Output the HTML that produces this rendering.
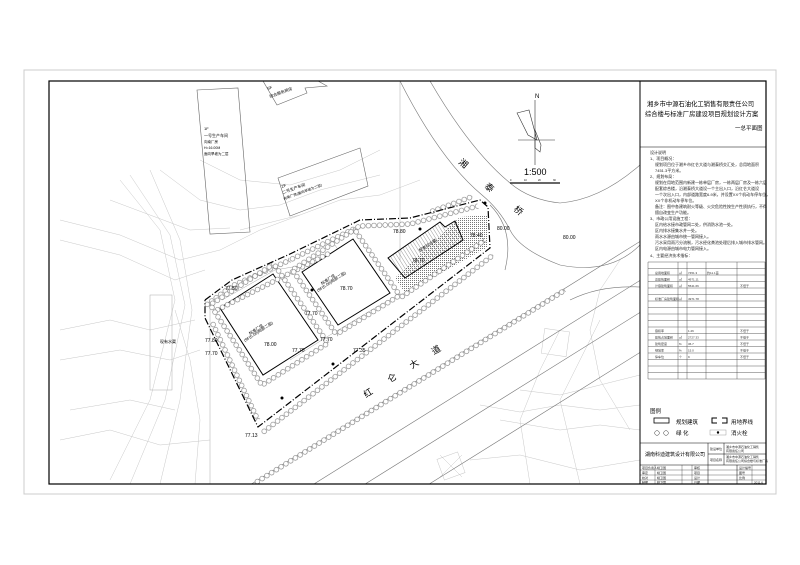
<!DOCTYPE html>
<html><head><meta charset="utf-8">
<style>
html,body{margin:0;padding:0;background:#fff;overflow:hidden;width:800px;height:565px;}
svg{display:block;font-family:"Liberation Sans","Noto Sans CJK SC",sans-serif;}
</style></head>
<body>
<svg width="800" height="565" viewBox="0 0 800 565" xmlns="http://www.w3.org/2000/svg">
<defs>
<clipPath id="c"><rect x="49" y="81" width="591" height="403"/></clipPath>
<pattern id="hat" width="3" height="3" patternUnits="userSpaceOnUse" patternTransform="rotate(-32)">
<line x1="0" y1="0" x2="0" y2="3" stroke="#555" stroke-width="0.6"/></pattern>
<pattern id="dot" width="2" height="2" patternUnits="userSpaceOnUse">
<rect x="0" y="0" width="1" height="1" fill="#777"/></pattern>
<pattern id="tr" x="0" y="-3" width="5.6" height="6" patternUnits="userSpaceOnUse">
<circle cx="2.8" cy="3" r="2.4" fill="#fff" stroke="#666" stroke-width="0.5"/></pattern>
</defs>
<rect x="24" y="70" width="752" height="424" fill="none" stroke="#ccc" stroke-width="1"/>
<g clip-path="url(#c)" fill="none" stroke="#999" stroke-width="0.5">
<g stroke="#c8c8c8">
<polyline points="120,180 160,230 175,300 150,400 110,480"/>
<polyline points="130,175 170,235 185,305 165,400 130,484"/>
<polyline points="150,170 180,240 192,310 180,400 160,484"/>
<polyline points="60,220 120,235 180,260 220,250 260,230 300,215"/>
<polyline points="60,240 120,255 175,280 205,270"/>
<polyline points="60,330 110,320 150,330 195,320"/>
<polyline points="60,360 120,350 170,360 200,350"/>
<polyline points="70,410 130,400 175,410"/>
<polyline points="60,440 110,430 160,445 210,440"/>
<polyline points="160,170 200,200 240,210 280,205 320,190 380,175"/>
<polyline points="200,160 240,180 290,185 340,170 380,150"/>
<polyline points="240,230 300,215 340,200 380,195 420,180"/>
<polyline points="175,310 190,360 200,420 195,484"/>
<polyline points="560,330 540,370 520,420 530,484"/>
<polyline points="600,320 580,360 560,400 580,484"/>
<polyline points="520,390 560,395 600,385 640,375"/>
<polyline points="500,420 560,430 600,425 640,430"/>
<polyline points="470,460 520,455 580,470 640,460"/>
<polyline points="620,260 600,290 590,330 600,380 630,430"/>
<polyline points="480,405 520,412 560,405 600,410 640,405"/>
<polyline points="110,200 150,215 190,230 230,228"/>
<rect x="543" y="330" width="25" height="25" transform="rotate(8 555 342)"/>
<rect x="440" y="455" width="22" height="22" transform="rotate(-20 451 466)"/>
<line x1="440" y1="455" x2="462" y2="477"/><line x1="462" y1="455" x2="440" y2="477"/>
<rect x="150" y="295" width="22" height="95" stroke="#aaa"/>
</g>
<g stroke="#666" stroke-width="0.6">
<polygon points="197,90 238,88 250,232 210,234"/>
<polygon points="278,178 360,148 368,186 290,216"/>
<polygon points="263,81 277,105 307,93 305,88 327,86 318,81"/>
</g>
<g stroke="#777" stroke-width="0.6">
<line x1="0" y1="641" x2="700" y2="204"/>
<line x1="0" y1="680" x2="700" y2="243"/>
<line x1="0" y1="712" x2="700" y2="275"/>
<line x1="0" y1="752" x2="700" y2="315"/>
<path d="M400,81 Q440,160 482,195 Q500,210 510,230 Q520,250 560,265 Q610,275 640,245"/>
<path d="M430,81 Q470,150 510,183 Q530,200 560,203 Q600,200 640,165"/>
<path d="M570,300 Q600,285 640,287"/>
<path d="M490,205 Q515,230 505,270"/>
<line x1="210" y1="300" x2="210" y2="484" stroke="#bbb"/>
<line x1="400" y1="81" x2="400" y2="260" stroke="#bbb"/>
</g>
<g stroke="#aaa" stroke-width="0.5">
<polyline points="222,300 275,270 322,262"/>
<polyline points="290,360 330,335 380,305 420,285"/>
<line x1="335" y1="245" x2="370" y2="300"/>
</g>
<polygon points="460,217 487,215 488,247 405,293 395,278" fill="url(#dot)" stroke="none"/>
<g stroke="#000" stroke-width="1" fill="#fff">
<polygon points="220,308 273,274 318,340 263,375"/>
<polygon points="302,272 353,239 390,293 338,325"/>
<polygon points="388,258 440,222 445,227 455,221 463,240 405,278" fill="url(#hat)"/>
</g>
<g stroke="none" fill="url(#tr)">
<g transform="translate(205,306) rotate(-36.5)"><rect x="0" y="-3" width="33.6" height="6"/></g>
<g transform="translate(232,286) rotate(-24.1)"><rect x="0" y="-3" width="63.6" height="6"/></g>
<g transform="translate(290,260) rotate(-25.9)"><rect x="0" y="-3" width="77.8" height="6"/></g>
<g transform="translate(360,226) rotate(-2.3)"><rect x="0" y="-3" width="50" height="6"/></g>
<g transform="translate(410,224) rotate(-14.8)"><rect x="0" y="-3" width="70.3" height="6"/></g>
<g transform="translate(215,311) rotate(-26.8)"><rect x="0" y="-3" width="128.8" height="6"/></g>
<g transform="translate(262,433) rotate(-37.6)"><rect x="0" y="-3" width="291.6" height="6"/></g>
<g transform="translate(255,483) rotate(-31.9)"><rect x="0" y="-3" width="365" height="6"/></g>
<g transform="translate(212,322) rotate(64.9)"><rect x="0" y="-3" width="108.3" height="6"/></g>
<g transform="translate(400,298) rotate(-34.3)"><rect x="0" y="-3" width="102.9" height="6"/></g>
<g transform="translate(430,212) rotate(-20)"><rect x="0" y="-3" width="45" height="6"/></g>
<g transform="translate(210.3,304.8) rotate(-32.7)"><rect x="0" y="-3" width="75.6" height="6"/></g>
<g transform="translate(273.9,264) rotate(55.7)"><rect x="0" y="-3" width="95.9" height="6"/></g>
<g transform="translate(327.9,343.2) rotate(147.5)"><rect x="0" y="-3" width="78.2" height="6"/></g>
<g transform="translate(261.9,385.2) rotate(-122.7)"><rect x="0" y="-3" width="95.5" height="6"/></g>
<g transform="translate(292.4,270) rotate(-33.1)"><rect x="0" y="-3" width="74.2" height="6"/></g>
<g transform="translate(354.6,229.5) rotate(55.6)"><rect x="0" y="-3" width="79.9" height="6"/></g>
<g transform="translate(399.7,295.4) rotate(148.4)"><rect x="0" y="-3" width="74.5" height="6"/></g>
<g transform="translate(336.2,334.4) rotate(-124.2)"><rect x="0" y="-3" width="77.9" height="6"/></g>
</g>
<polyline points="205,300 232,280 290,254 360,220 410,218 480,200 488,207 490,248 258,427 205,318 205,300" stroke="#000" stroke-width="1.2" stroke-dasharray="7,2,1,2"/>
<g fill="#000" stroke="none" font-size="4">
<text x="250" y="335" transform="rotate(-33 250 335)">标准厂房</text>
<text x="245" y="342" transform="rotate(-33 245 342)">(9F(6.08)局部二层)</text>
<text x="264" y="346" font-size="5">78.00</text>
<text x="322" y="285" transform="rotate(-33 322 285)">标准厂房</text>
<text x="318" y="292" transform="rotate(-33 318 292)">(9F(6.08)局部二层)</text>
<text x="340" y="290" font-size="5">78.70</text>
<text x="420" y="252" transform="rotate(-33 420 252)">配套综合楼</text>
<text x="412" y="262" font-size="5">78.70</text>
<text x="393" y="233" font-size="5">78.80</text>
<text x="225" y="290" font-size="5">77.50</text>
<text x="205" y="342" font-size="5">77.80</text>
<text x="205" y="355" font-size="5">77.70</text>
<text x="305" y="315" font-size="5">77.70</text>
<text x="320" y="341" font-size="5">77.70</text>
<text x="292" y="352" font-size="5">77.70</text>
<text x="353" y="352" font-size="5">77.35</text>
<text x="245" y="437" font-size="5">77.13</text>
<text x="497" y="230" font-size="5">80.00</text>
<text x="563" y="239" font-size="5">80.00</text>
<text x="470" y="237" font-size="5">78.40</text>
<text x="160" y="343">现有水渠</text>
<text x="204" y="130">1F</text>
<text x="204" y="137">一号生产车间</text>
<text x="204" y="143" font-size="3.5">向南厂房</text>
<text x="204" y="149" font-size="3.5">H=16.00M</text>
<text x="204" y="155" font-size="3.5">面向旱坡为二层</text>
<text x="282" y="188" transform="rotate(-20 282 188)">2F</text>
<text x="283" y="194" transform="rotate(-20 283 194)">二号生产车间</text>
<text x="284" y="200" font-size="3.5" transform="rotate(-20 284 200)">向南厂房(面向旱坡为二层)</text>
<text x="268" y="90" transform="rotate(-20 268 90)">5F</text>
<text x="270" y="98" transform="rotate(-20 270 98)">综合服务用房</text>
</g>
<circle cx="312" cy="290" r="1.5" fill="#000" stroke="none"/>
<circle cx="333" cy="364" r="1.5" fill="#000" stroke="none"/>
<circle cx="282" cy="398" r="1.5" fill="#000" stroke="none"/>
<circle cx="420" cy="229" r="1.5" fill="#000" stroke="none"/>
<circle cx="485" cy="203" r="1.5" fill="#000" stroke="none"/>
<g fill="#000" stroke="none" font-size="9">
<text x="366" y="398" transform="rotate(-33 366 398)">红</text>
<text x="390" y="383" transform="rotate(-33 390 383)">仑</text>
<text x="412" y="369" transform="rotate(-33 412 369)">大</text>
<text x="434" y="355" transform="rotate(-33 434 355)">道</text>
<text x="458" y="163" transform="rotate(40 458 163)">湘</text>
<text x="484" y="187" transform="rotate(40 484 187)">泰</text>
<text x="513" y="210" transform="rotate(40 513 210)">桥</text>
</g>
<g stroke="#333" stroke-width="0.6">
<line x1="535" y1="100" x2="535" y2="165"/>
<line x1="518" y1="140" x2="555" y2="140"/>
<polygon points="517,113 529,110 537,140 528,135" fill="none"/>
<polygon points="535,130 541,145 540,152 535,148" fill="none"/>
<line x1="510" y1="183" x2="560" y2="183" stroke-width="1.5"/>
</g>
<text x="535" y="98" font-size="6" fill="#000" stroke="none">N</text>
<text x="524" y="175" font-size="9" fill="#000" stroke="none">1:500</text>
<g font-size="2.5" fill="#000" stroke="none"><text x="510" y="181">0</text><text x="524" y="181">10</text><text x="538" y="181">20</text><text x="553" y="181">30</text></g>
</g>
<rect x="49" y="81" width="717" height="403" fill="none" stroke="#000" stroke-width="1.2"/>
<line x1="640" y1="81" x2="640" y2="484" stroke="#000" stroke-width="1"/>
<g fill="#000" font-size="6.3">
<text x="647" y="106">湘乡市中源石油化工销售有限责任公司</text>
<text x="645" y="116">综合楼与标准厂房建设项目规划设计方案</text>
<text x="735" y="130" font-size="5.5">一总平面图</text>
</g>
<line x1="640" y1="147" x2="766" y2="147" stroke="#000" stroke-width="0.6"/>
<g fill="#222" font-size="4">
<text x="650" y="154">设计说明</text>
<text x="650" y="160">1、项目概况：</text>
<text x="655" y="166">规划项目位于湘乡市红仑大道与湘泰桥交汇处，总用地面积</text>
<text x="655" y="172">7451.3平方米。</text>
<text x="650" y="178">2、规划布局：</text>
<text x="655" y="184">规划在用地范围内新建一栋单层厂房，一栋两层厂房及一栋六层</text>
<text x="655" y="190">配套综合楼，沿湘泰桥大道设一个主出入口，沿红仑大道设</text>
<text x="655" y="196">一个次出入口，内部道路宽度6-9米，并设置XX个机动车停车位，</text>
<text x="655" y="202">XX个非机动车停车位。</text>
<text x="655" y="208">备注：图中各建筑耐火等级、火灾危险性按生产性质执行，不得</text>
<text x="655" y="214">擅自改变生产功能。</text>
<text x="650" y="220">3、市政公用设施工程：</text>
<text x="655" y="226">区内给水接市政管网二处，供消防水池一处。</text>
<text x="655" y="232">区内排水接集水井一处。</text>
<text x="655" y="238">雨水水源由城市统一管网接入。</text>
<text x="655" y="244">污水采用雨污分流制，污水经化粪池处理后排入城市排水管网。</text>
<text x="655" y="250">区内电源由城市电力管网接入。</text>
<text x="650" y="257">4、主要经济技术指标：</text>
</g>
<path stroke="#333" stroke-width="0.4" fill="none" d="M648,262h117M648,268.5h117M648,275h117M648,281.5h117M648,288h117M648,294.5h117M648,301h117M648,307.5h117M648,314h117M648,320.5h117M648,327h117M648,333.5h117M648,340h117M648,346.5h117M648,353h117M648,359.5h117M648,366h117M648,372.5h117M648,379h117M648,262v117M678,262v117M687,262v117M706,262v117M737,262v117M765,262v117"/>
<g fill="#333" font-size="3">
<text x="655" y="274">总用地面积</text><text x="679" y="274">㎡</text><text x="688" y="274">7451.3</text><text x="707" y="274">约11.1亩</text>
<text x="655" y="280.5">总建筑面积</text><text x="679" y="280.5">㎡</text><text x="688" y="280.5">4971.11</text>
<text x="655" y="287">计容建筑面积</text><text x="679" y="287">㎡</text><text x="688" y="287">5541.66</text><text x="740" y="287">不低于</text>
<text x="655" y="300">标准厂房建筑面积</text><text x="679" y="300">㎡</text><text x="688" y="300">4971.78</text>
<text x="655" y="332">容积率</text><text x="688" y="332">1.26</text><text x="740" y="332">不低于</text>
<text x="655" y="338.5">建筑占地面积</text><text x="679" y="338.5">㎡</text><text x="688" y="338.5">2727.33</text><text x="740" y="338.5">不低于</text>
<text x="655" y="345">建筑密度</text><text x="679" y="345">%</text><text x="688" y="345">36.7</text><text x="740" y="345">不低于</text>
<text x="655" y="351.5">绿地率</text><text x="679" y="351.5">%</text><text x="688" y="351.5">15.0</text><text x="740" y="351.5">不低于</text>
<text x="655" y="358">停车位</text><text x="679" y="358">个</text><text x="688" y="358">9</text><text x="740" y="358">不低于</text>
</g>
<g fill="#000" font-size="5.5">
<text x="650" y="413">图例</text>
<rect x="654" y="418" width="15" height="5" fill="none" stroke="#000" stroke-width="0.8"/>
<text x="676" y="424">规划建筑</text>
<path d="M717,418 h-5 v5 h5 M722,418 h5 v5 h-5" fill="none" stroke="#000" stroke-width="1"/>
<text x="731" y="424">用地界线</text>
<circle cx="657" cy="433" r="2.3" fill="none" stroke="#000" stroke-width="0.4"/>
<circle cx="666" cy="433" r="2.3" fill="none" stroke="#000" stroke-width="0.4"/>
<text x="676" y="435">绿    化</text>
<rect x="710" y="430" width="16" height="5" fill="none" stroke="#888" stroke-width="0.4"/>
<circle cx="718" cy="432.5" r="1.2"/>
<text x="731" y="435">消火栓</text>
</g>
<g stroke="#000" stroke-width="0.5" fill="none">
<line x1="640" y1="443" x2="766" y2="443"/>
<line x1="640" y1="465" x2="766" y2="465"/>
<line x1="708" y1="443" x2="708" y2="484"/>
<line x1="724" y1="443" x2="724" y2="465"/>
<line x1="708" y1="454" x2="766" y2="454"/>
<line x1="737" y1="465" x2="737" y2="484"/>
<line x1="640" y1="470" x2="766" y2="470" stroke-width="0.3"/>
<line x1="640" y1="475" x2="766" y2="475" stroke-width="0.3"/>
<line x1="640" y1="480" x2="766" y2="480" stroke-width="0.3"/>
<line x1="655" y1="465" x2="655" y2="484" stroke-width="0.3"/>
<line x1="682" y1="465" x2="682" y2="484" stroke-width="0.3"/>
<line x1="692" y1="465" x2="692" y2="484" stroke-width="0.3"/>
<line x1="752" y1="465" x2="752" y2="484" stroke-width="0.3"/>
</g>
<text x="645" y="456" fill="#000" font-size="5">湖南科迪建筑设计有限公司</text>
<g fill="#222" font-size="3">
<text x="710" y="450">建设单位</text><text x="726" y="448">湘乡市中源石油化工销售</text><text x="726" y="452">有限责任公司</text>
<text x="710" y="461">项目名称</text><text x="726" y="458">湘乡市中源石油化工销售</text><text x="726" y="462">有限责任公司综合楼与标准厂房</text>
<text x="642" y="469">项目负责人</text><text x="657" y="469">姚卫国</text><text x="694" y="469">审核</text><text x="739" y="469">设计编号</text>
<text x="642" y="474">审定</text><text x="657" y="474">姚卫国</text><text x="694" y="474">项目</text><text x="739" y="474">图号</text>
<text x="642" y="479">校对</text><text x="657" y="479">姚卫国</text><text x="694" y="479">设计</text><text x="739" y="479">比例</text>
<text x="642" y="483.5">制图</text><text x="657" y="483.5">姚卫国</text><text x="694" y="483.5">日期</text><text x="754" y="483.5">2011.6</text>
</g>
</svg>
</body></html>
